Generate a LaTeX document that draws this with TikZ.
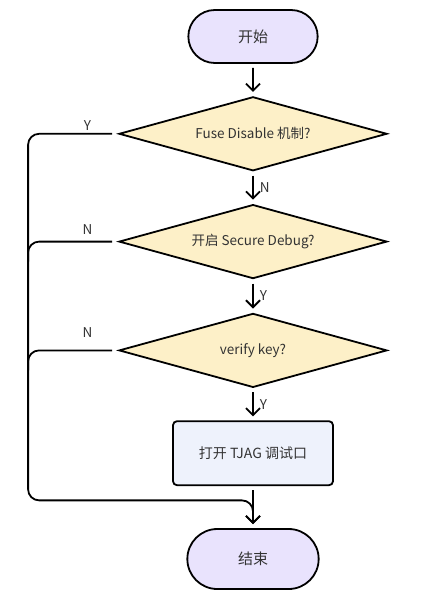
\documentclass[tikz,border=0pt]{standalone}
\usepackage{fontspec}
\setmainfont{Noto Sans CJK SC}
\usepackage{xcolor}
\definecolor{termfill}{HTML}{E9E3FD}
\definecolor{decfill}{HTML}{FDF0C8}
\definecolor{procfill}{HTML}{EEF2FC}
\definecolor{inkgray}{HTML}{333333}
\usetikzlibrary{arrows.meta,positioning,shapes.geometric,shapes.misc,calc}

\begin{document}
\begin{tikzpicture}[
  x=1pt,y=1pt,
  font=\fontsize{13.5}{16}\selectfont,
  term/.style={draw,rounded rectangle,fill=termfill,text=inkgray,line width=1.8pt,minimum width=136pt,font=\fontsize{15}{18}\selectfont},
  dec/.style={draw,diamond,fill=decfill,text=inkgray,line width=1.8pt,aspect=3.6,inner sep=0pt,minimum width=268pt,minimum height=74pt},
  proc/.style={draw,rounded corners=4pt,fill=procfill,text=inkgray,line width=1.8pt,minimum width=160pt,minimum height=64pt,font=\fontsize{14}{17}\selectfont},
  arr/.style={-{Straight Barb[length=7pt,width=14pt]},line width=1.8pt,shorten <=4pt,shorten >=4pt},
  lnk/.style={line width=1.8pt,rounded corners=11pt,shorten <=6pt},
  lbl/.style={inner sep=1pt,text=inkgray,font=\fontsize{13.5}{15}\selectfont}]
\useasboundingbox (0,0) rectangle (439,-599);
\node[term,minimum height=53pt] (start) at (253,-36.5) {开始};
\node[dec,below=32pt of start] (fuse) {Fuse Disable 机制?};
\node[dec,below=32pt of fuse] (secdbg) {开启 Secure Debug?};
\node[dec,below=33pt of secdbg] (vkey) {verify key?};
\node[proc,below=32pt of vkey] (jtag) {打开 TJAG 调试口};
\node[term,minimum width=138pt,minimum height=60pt,below=42pt of jtag] (end) {结束};
% main flow
\draw[arr] (start) -- (fuse);
\draw[arr] (fuse) -- node[lbl,right=5pt] (nfuse) {N} (secdbg);
\draw[arr] (secdbg) -- node[lbl,right=5pt] (ysec) {Y} (vkey);
\draw[arr] (vkey) -- node[lbl,right=5pt] (yvkey) {Y} (jtag);
\draw[arr] (jtag) -- (end);
% left rail
\coordinate (rail) at ([xshift=-90pt]fuse.west);
\coordinate (merge) at ($(jtag.south)!0.34!(end.north)$);
\draw[arr,lnk] (fuse.west) -| node[lbl,above=1pt,pos=0.17] (yfuse) {Y} (rail |- merge) -- (merge) -- (end.north);
\draw[lnk] (secdbg.west) -| node[lbl,above=5pt,pos=0.17] (nsec) {N} ([yshift=-20pt]rail |- secdbg.west);
\draw[lnk] (vkey.west) -| node[lbl,above=11pt,pos=0.17] (nvkey) {N} ([yshift=-20pt]rail |- vkey.west);
\end{tikzpicture}
\end{document}
